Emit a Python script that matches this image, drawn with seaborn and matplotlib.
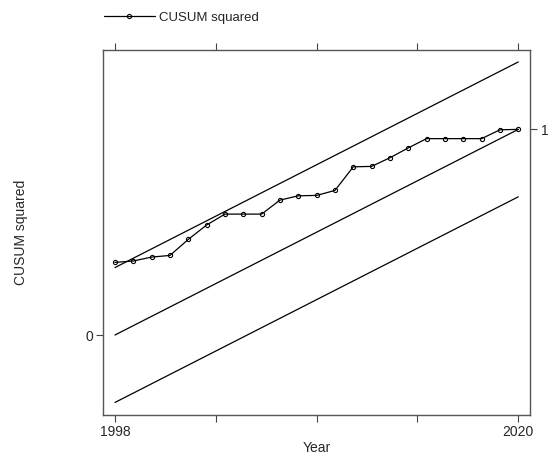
import matplotlib
matplotlib.use("Agg")
import matplotlib.pyplot as plt
import seaborn as sns
import pandas as pd

years = list(range(1998, 2021))
cusum_sq = [0.353, 0.360, 0.379, 0.387, 0.465, 0.535, 0.588, 0.588, 0.588,
            0.656, 0.677, 0.679, 0.703, 0.818, 0.820, 0.862, 0.910, 0.955,
            0.955, 0.955, 0.955, 0.998, 1.000]
bound_years = [1998, 2020]
upper_bound = [0.328, 1.328]
center_line = [0.0, 1.0]
lower_bound = [-0.328, 0.672]
x_ticks = [1998, 2003.5, 2009, 2014.5, 2020]
x_labels = ["1998", "", "", "", "2020"]

sns.set_theme(style="white")
plt.rcParams['font.family'] = ['Liberation Sans', 'DejaVu Sans']

fig = plt.figure(figsize=(5.56, 4.61), dpi=100)
ax = fig.add_axes([0.1847, 0.0998, 0.9532 - 0.1847, 0.8915 - 0.0998])

df = pd.DataFrame({"Year": years, "CUSUM squared": cusum_sq})
bounds = pd.DataFrame({"Year": bound_years, "upper": upper_bound,
                       "center": center_line, "lower": lower_bound})

for col in ["upper", "center", "lower"]:
    sns.lineplot(data=bounds, x="Year", y=col, ax=ax, color="black", lw=0.9)
sns.lineplot(data=df, x="Year", y="CUSUM squared", ax=ax, color="black", lw=0.9,
             marker="o", markersize=3.0, markerfacecolor="none",
             markeredgecolor="black", markeredgewidth=0.8, label="CUSUM squared")

ax.set_xlim(1997.33, 2020.64)
ax.set_ylim(-0.389, 1.386)
ax.set_xticks(x_ticks)
ax.set_xticklabels(x_labels)
ax.set_yticks([0])
ax.set_yticklabels(["0"])
ax.set_xlabel("Year", fontsize=10, labelpad=2)
ax.set_ylabel("CUSUM squared", fontsize=10, labelpad=41)
ax.tick_params(axis="both", direction="out", length=5, width=0.8, color="#444444",
               labelsize=10, bottom=True, left=True, pad=2)

for s in ax.spines.values():
    s.set_color("#555555")
    s.set_linewidth(1.0)

sec_top = ax.secondary_xaxis("top")
sec_top.set_xticks(x_ticks)
sec_top.set_xticklabels([])
sec_top.tick_params(direction="out", length=5, width=0.8, color="#444444")
for s in sec_top.spines.values():
    s.set_visible(False)

sec_right = ax.secondary_yaxis("right")
sec_right.set_yticks([1])
sec_right.set_yticklabels(["1"])
sec_right.tick_params(direction="out", length=5, width=0.8, color="#444444",
                      labelsize=10, pad=3)
for s in sec_right.spines.values():
    s.set_visible(False)

ax.get_legend().remove()
handles, labels = ax.get_legend_handles_labels()
fig.legend(handles[-1:], labels[-1:], loc="upper left",
           bbox_to_anchor=(0.165, 1.001), frameon=False, fontsize=9.5,
           handlelength=3.9, handletextpad=0.3, markerscale=1.0)

fig.savefig("out.png", dpi=100)
